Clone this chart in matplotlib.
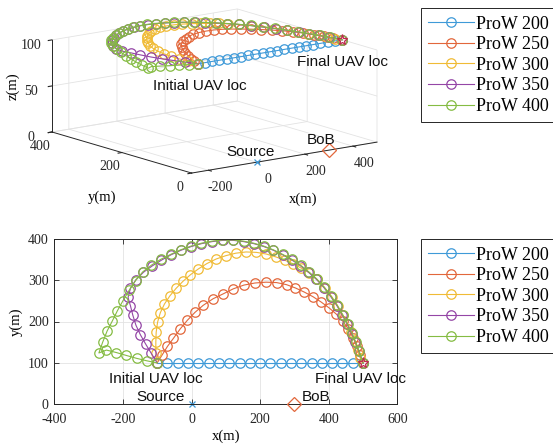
import numpy as np
import matplotlib
matplotlib.use("Agg")
import matplotlib.pyplot as plt
from matplotlib.lines import Line2D
from mpl_toolkits.mplot3d import proj3d

# ---------------------------------------------------------------- data
labels = ["ProW 200", "ProW 250", "ProW 300", "ProW 350", "ProW 400"]
colors = ["#3f9ad8", "#e2673b", "#f0bb36", "#9446a6", "#85bc43"]

x200 = [-100, -70, -40, -10, 20, 50, 80, 110, 140, 170, 200, 230, 260, 290,
        320, 350, 380, 410, 440, 470, 500]
y200 = [100] * 21

x250 = [-100, -85, -70, -53, -33, -12, 10, 34, 63, 93, 122, 153, 185, 217,
        248, 277, 303, 329, 354, 378, 401, 422, 441, 457, 471, 482, 491, 500]
y250 = [100, 120, 140, 159, 182, 203, 222, 239, 255, 267, 279, 288, 293, 295,
        294, 289, 281, 271, 260, 247, 233, 218, 201, 182, 161, 140, 120, 100]

x300 = [-100, -104, -104, -103, -99, -91, -79, -63, -45, -25, -3, 20, 45, 72,
        100, 129, 159, 189, 218, 246, 272, 297, 320, 343, 365, 388, 409, 426,
        441, 454, 466, 476, 484, 491, 500]
y300 = [100, 125, 150, 174, 198, 221, 242, 262, 280, 297, 313, 327, 340, 351,
        359, 365, 368, 367, 363, 356, 348, 339, 329, 318, 302, 282, 260, 238,
        216, 195, 174, 153, 131, 113, 100]

x350 = [-100, -118, -134, -149, -162, -171, -178, -185, -178, -162, -140,
        -115, -88, -60, -31, -1, 29, 60, 91, 122, 152, 182, 211, 239, 266, 292,
        317, 341, 364, 386, 406, 424, 440, 454, 467, 478, 488, 500]
y350 = [100, 124, 146, 168, 191, 215, 238, 258, 280, 301, 319, 334, 348, 361,
        372, 381, 388, 393, 396, 396, 393, 388, 381, 372, 361, 349, 335, 319,
        302, 282, 260, 238, 215, 193, 171, 150, 128, 100]

x400 = [-100, -130, -160, -190, -219, -248, -270, -259, -246, -231, -216,
        -200, -182, -163, -142, -117, -90, -61, -32, -2, 28, 59, 90, 121, 152,
        182, 211, 239, 266, 293, 318, 342, 365, 387, 407, 425, 441, 455, 468,
        479, 489, 500]
y400 = [100, 105, 111, 118, 125, 131, 124, 150, 177, 201, 226, 250, 275, 299,
        320, 336, 350, 362, 373, 382, 389, 394, 397, 397, 394, 389, 382, 373,
        362, 350, 336, 320, 303, 283, 261, 239, 216, 194, 172, 150, 128, 100]

series_x = [x200, x250, x300, x350, x400]
series_y = [y200, y250, y300, y350, y400]

altitude = 100          # flight altitude of the UAV (m)
source_xy = (0, 0)
bob_xy = (300, 0)
final_xy = (500, 100)

# ---------------------------------------------------------------- style
W_PX, H_PX = 553, 446
plt.rcParams["font.family"] = ["Liberation Serif", "DejaVu Serif"]
plt.rcParams["font.size"] = 10
plt.rcParams["axes.unicode_minus"] = False
plt.rcParams["axes.edgecolor"] = "#262626"
plt.rcParams["axes.linewidth"] = 0.7
plt.rcParams["xtick.color"] = "#262626"
plt.rcParams["ytick.color"] = "#262626"
plt.rcParams["grid.color"] = "#e3e3e3"
plt.rcParams["grid.linewidth"] = 0.6

line_kw = dict(marker="o", mfc="none", ms=6.8, mew=0.9, lw=0.8)
ann_font = dict(family=["Liberation Sans", "DejaVu Sans"], size=11, color="#111111")
star_color = "#c0284f"

fig = plt.figure(figsize=(W_PX / 100, H_PX / 100), dpi=100)


def fig_rect(left, top, right, bottom):
    """Figure-fraction rect from pixel edges measured from the top-left."""
    return [left / W_PX, 1 - bottom / H_PX, (right - left) / W_PX,
            (bottom - top) / H_PX]


def add_legend(ax, top_px):
    handles = [Line2D([], [], color=c, **line_kw) for c in colors]
    leg = ax.legend(handles, labels, loc="upper left",
                    bbox_to_anchor=(420.5 / W_PX, 1 - top_px / H_PX),
                    bbox_transform=fig.transFigure, borderaxespad=0,
                    fancybox=False, framealpha=1, edgecolor="#262626",
                    prop=dict(family="Liberation Serif", size=13),
                    handlelength=2.55, handletextpad=0.1, borderpad=0.4,
                    labelspacing=0.2)
    leg.get_frame().set_linewidth(0.7)
    return leg


# ---------------------------------------------------------------- 3-D view
ax3 = fig.add_axes([0.1, 0.5, 0.5, 0.5], projection="3d", proj_type="ortho")
ax3.view_init(elev=12.8, azim=-127)
ax3.set_box_aspect((1, 1, 0.407))
ax3.set_xlim3d(-270, 500)
ax3.set_ylim3d(0, 400)
ax3.set_zlim3d(0, 100)
ax3.set_xticks([-200, 0, 200, 400])
ax3.set_yticks([0, 200, 400])
ax3.set_zticks([0, 50, 100])

for axis in (ax3.xaxis, ax3.yaxis, ax3.zaxis):
    axis.set_pane_color((1, 1, 1, 0))
    axis.pane.set_edgecolor("#d6d6d6")
    axis.line.set_color("#262626")
    axis.line.set_linewidth(0.7)
    axis._axinfo["grid"].update(color="#e3e3e3", linewidth=0.6)
    axis._axinfo["tick"].update(inward_factor=0.25, outward_factor=0.0)
    axis._axinfo["axisline"]["color"] = "#262626"
    axis.label.set_visible(False)
    axis.get_offset_text().set_visible(False)

for xs, ys, c, lab in zip(series_x, series_y, colors, labels):
    ax3.plot(xs, ys, np.full(len(xs), altitude), color=c, label=lab, **line_kw)
ax3.plot([final_xy[0]], [final_xy[1]], [altitude], marker="*", ms=8,
         color=star_color, mfc="none", mew=0.9, ls="none")
ax3.plot([source_xy[0]], [source_xy[1]], [0], marker="x", ms=5,
         color=colors[0], mew=0.9, ls="none")
ax3.plot([bob_xy[0]], [bob_xy[1]], [0], marker="D", ms=7, color=colors[1],
         mfc="none", mew=0.9, ls="none")
ax3.text(-250, 125, 80, "Initial UAV loc", ha="left", va="center", **ann_font)
ax3.text(350, 125, 80, "Final UAV loc", ha="left", va="center", **ann_font)
ax3.text(-125, 0, 16, "Source", ha="left", va="center", **ann_font)
ax3.text(210, 0, 15, "BoB", ha="left", va="center", **ann_font)
ax3.tick_params(labelsize=10, pad=0)
ax3.xaxis.set_tick_params(pad=2)

# place the projected box so that its outline spans the wanted pixel bbox
target_l, target_r, target_t, target_b = 52, 377, 9, 173
for _ in range(2):
    fig.canvas.draw()
    pos = ax3.get_position()
    L0, B0 = pos.x0 * W_PX, pos.y0 * H_PX
    S0 = pos.width * W_PX
    cx, cy, cz = np.meshgrid(ax3.get_xlim3d(), ax3.get_ylim3d(),
                             ax3.get_zlim3d())
    px, py, _ = proj3d.proj_transform(cx.ravel(), cy.ravel(), cz.ravel(), ax3.M)
    disp = ax3.transData.transform(np.column_stack([px, py]))
    nx = (disp[:, 0] - L0) / S0
    ny = (disp[:, 1] - B0) / S0
    S = (target_r - target_l) / (nx.max() - nx.min())
    L = target_l - S * nx.min()
    yc = H_PX - (target_t + target_b) / 2
    B = yc - S * (ny.max() + ny.min()) / 2
    ax3.set_position([L / W_PX, B / H_PX, S / W_PX, S / H_PX])

fig.text(13 / W_PX, 1 - 86 / H_PX, "z(m)", rotation=90, ha="center",
         va="center", fontsize=10.5)
fig.text(102 / W_PX, 1 - 197 / H_PX, "y(m)", ha="center", va="center",
         fontsize=10.5)
fig.text(303 / W_PX, 1 - 199 / H_PX, "x(m)", ha="center", va="center",
         fontsize=10.5)
add_legend(ax3, 8.3)

# ---------------------------------------------------------------- top view
ax = fig.add_axes(fig_rect(54.3, 238.7, 397.3, 404.3))
for xs, ys, c, lab in zip(series_x, series_y, colors, labels):
    ax.plot(xs, ys, color=c, label=lab, **line_kw)
ax.plot(*final_xy, marker="*", ms=8, color=star_color, mfc="none", mew=0.9,
        ls="none", clip_on=False)
ax.plot(*source_xy, marker="x", ms=5, color=colors[0], mew=0.9, ls="none",
        clip_on=False)
ax.plot(*bob_xy, marker="D", ms=7, color=colors[1], mfc="none", mew=0.9,
        ls="none", clip_on=False, zorder=5)
ax.text(-240, 60, "Initial UAV loc", ha="left", va="center", **ann_font)
ax.text(360, 60, "Final UAV loc", ha="left", va="center", **ann_font)
ax.text(-160, 18, "Source", ha="left", va="center", **ann_font)
ax.text(320, 18, "BoB", ha="left", va="center", **ann_font)
ax.set_xlim(-400, 600)
ax.set_ylim(0, 400)
ax.set_xticks(np.arange(-400, 601, 200))
ax.set_yticks(np.arange(0, 401, 100))
ax.grid(True)
ax.set_axisbelow(True)
ax.tick_params(direction="in", length=3.5, width=0.6, top=True, right=True,
               labelsize=10)
ax.tick_params(axis="x", pad=6)
ax.tick_params(axis="y", pad=4)
ax.set_xlabel("x(m)", fontsize=10.5, labelpad=3)
ax.set_ylabel("y(m)", fontsize=10.5, labelpad=4)
add_legend(ax, 239.3)

fig.savefig("out.png", dpi=100)
